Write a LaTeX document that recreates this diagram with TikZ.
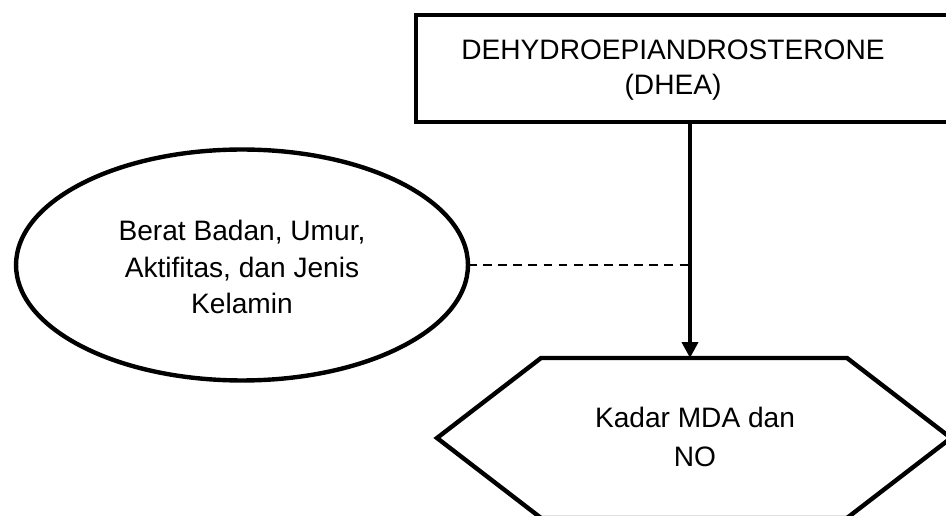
\documentclass[tikz,border=0pt]{standalone}
\usepackage{fontspec}
\setmainfont{Liberation Sans}
\usetikzlibrary{shapes.geometric, arrows.meta, positioning, calc}

\begin{document}
\begin{tikzpicture}[x=0.02cm, y=-0.02cm,
  every node/.style={font=\fontsize{16}{19.8}\selectfont, align=center, outer sep=0pt},
  thickline/.style={line width=2.5pt},
  factorshape/.style={ellipse, draw, thickline, minimum width=9.04cm, minimum height=4.62cm, inner sep=0pt},
  arrowline/.style={line width=2.2pt, -{Triangle[length=0.32cm, width=0.32cm]}},
  dashline/.style={line width=0.75pt, dash pattern=on 5pt off 3.6pt}]
\useasboundingbox (0,0) rectangle (946,516);

% Variabel bebas
\node[draw, thickline, minimum width=11cm, minimum height=2.14cm, anchor=north west] (dhea) at (416,15) {};
\node (dheatext) at (673,70) {DEHYDROEPIANDROSTERONE\\(DHEA)};

% Variabel perancu
\node[factorshape] (faktor) at (242,265) {};
\node[font=\fontsize{16}{20.6}\selectfont] (faktortext) at (242,267) {Berat Badan, Umur,\\Aktifitas, dan Jenis\\Kelamin};

% Variabel terikat
\coordinate (hextop) at (690,358);
\draw[thickline, line join=miter] (437,438) -- (541,358) -- (847,358) -- (951,438) -- (847,518) -- (541,518) -- cycle;
\node[font=\fontsize{16}{22.7}\selectfont] (kadar) at (695,437) {Kadar MDA dan\\NO};

\draw[arrowline] (dhea.south -| hextop) -- (hextop);
\draw[dashline] (faktor.east) -- (faktor.east -| hextop);

\end{tikzpicture}
\end{document}
